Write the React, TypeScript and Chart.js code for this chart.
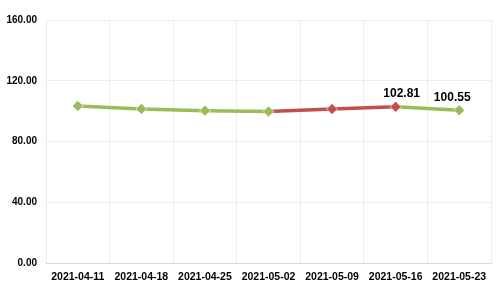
import React, { useEffect, useRef } from "react";
import { Chart, registerables } from "chart.js";

Chart.register(...registerables);

const categories = ["2021-04-11", "2021-04-18", "2021-04-25", "2021-05-02", "2021-05-09", "2021-05-16", "2021-05-23"];
const values = [103.4, 101.4, 100.3, 99.7, 101.4, 102.81, 100.55];
const labelledIndexes = [5, 6];
const labelDx = [0, 0, 0, 0, 0, 6, -7];
const yTicks = [0, 40, 80, 120, 160];

const GREEN = "#9BBB59";
const RED = "#C0504D";
const FONT = "'Liberation Sans', Arial, sans-serif";

const pointColors = values.map((v, i) => (i > 0 && v > values[i - 1] ? RED : GREEN));

const labelPlugin = {
  id: "valueLabels",
  afterDatasetsDraw(chart: any) {
    const ctx = chart.ctx;
    const meta = chart.getDatasetMeta(0);
    ctx.save();
    ctx.font = `bold 12px ${FONT}`;
    ctx.fillStyle = "#000";
    ctx.textAlign = "center";
    ctx.textBaseline = "bottom";
    labelledIndexes.forEach((i) => {
      const el = meta.data[i];
      ctx.fillText(values[i].toFixed(2), el.x + labelDx[i], el.y - 7);
    });
    ctx.restore();
  },
};

export default function App() {
  const ref = useRef<HTMLCanvasElement>(null);
  useEffect(() => {
    document.body.style.margin = "0";
    const chart = new Chart(ref.current!, {
      type: "line",
      data: {
        labels: categories,
        datasets: [
          {
            data: values,
            borderColor: GREEN,
            borderWidth: 3.5,
            segment: {
              borderColor: (c: any) => (c.p1.parsed.y > c.p0.parsed.y ? RED : GREEN),
            },
            pointStyle: "rectRot",
            pointRadius: 5.5,
            pointBackgroundColor: pointColors,
            pointBorderColor: "rgba(255,255,255,0.6)",
            pointBorderWidth: 1,
            tension: 0,
          },
        ],
      },
      options: {
        responsive: false,
        animation: false,
        layout: { padding: { top: 20, right: 9, bottom: 0, left: 0 } },
        plugins: { legend: { display: false }, tooltip: { enabled: false } },
        scales: {
          x: {
            offset: true,
            grid: { offset: true, color: "#ececec", drawTicks: false },
            border: { color: "#d9d9d9" },
            ticks: { color: "#000", font: { family: FONT, size: 10.5, weight: "bold" }, padding: 8, maxRotation: 0, autoSkip: false },
            afterFit: (s: any) => { s.height = 37; },
          },
          y: {
            min: 0,
            max: 160,
            afterBuildTicks: (s: any) => { s.ticks = yTicks.map((v) => ({ value: v })); },
            grid: { color: "#ececec", drawTicks: false },
            border: { display: false },
            ticks: { color: "#000", font: { family: FONT, size: 10, weight: "bold" }, padding: 9, callback: (v: any) => Number(v).toFixed(2) },
            afterFit: (s: any) => { s.width = 46; },
          },
        },
      },
      plugins: [labelPlugin],
    });
    return () => chart.destroy();
  }, []);
  return <canvas ref={ref} width={500} height={300} style={{ display: "block" }} />;
}
